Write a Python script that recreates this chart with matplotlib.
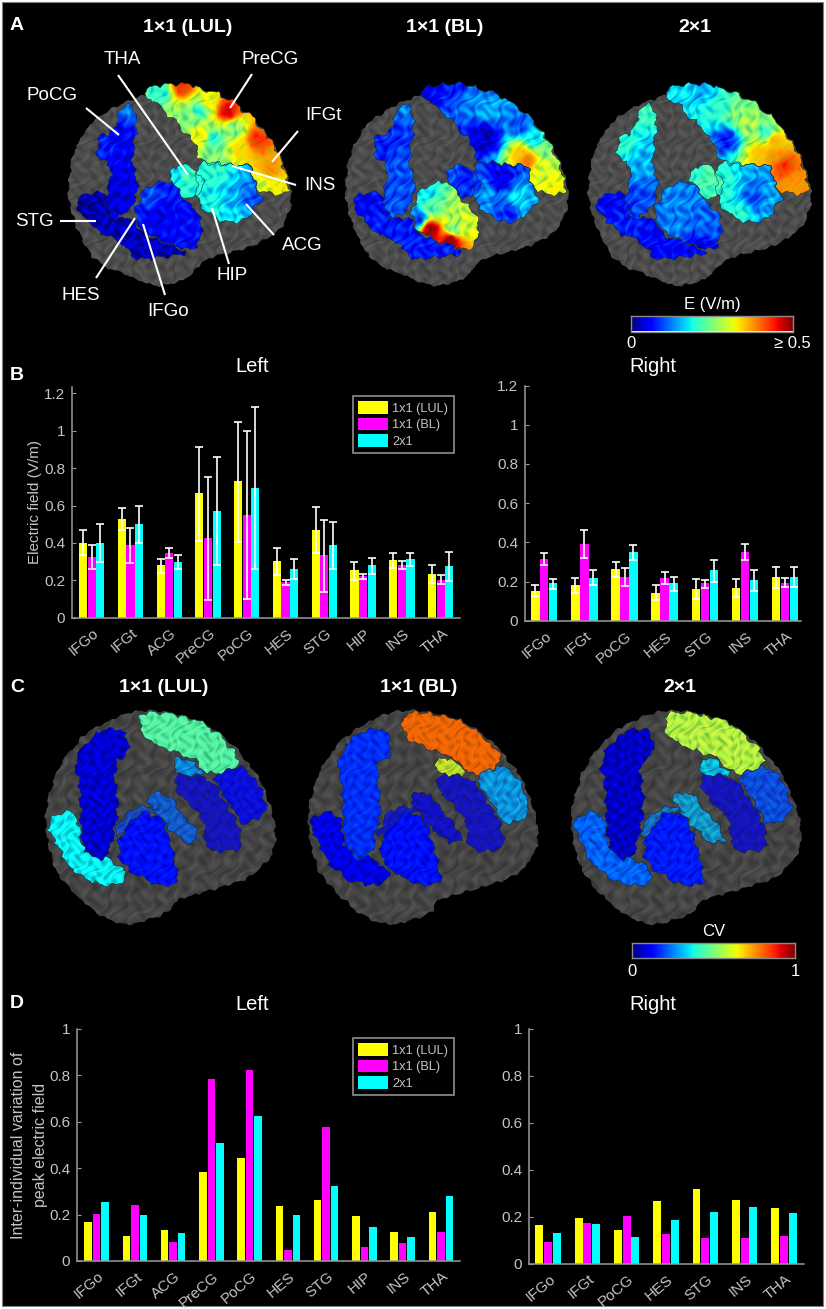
import numpy as np
import matplotlib
matplotlib.use('Agg')
import matplotlib.pyplot as plt
from matplotlib.patches import Polygon, Rectangle
from matplotlib.transforms import ScaledTranslation

plt.rcParams['font.family'] = ['Liberation Sans', 'DejaVu Sans']

W, H = 826, 1309
YELLOW, MAGENTA, CYAN = '#ffff00', '#ff00ff', '#00ffff'
GREY = '#c4c4c4'
AXIS = '#9a9a9a'
SERIES = ['1x1 (LUL)', '1x1 (BL)', '2x1']

# ---- panel B, mean and error bar ends
left_regions = ['IFGo', 'IFGt', 'ACG', 'PreCG', 'PoCG', 'HES', 'STG', 'HIP', 'INS', 'THA']
right_regions = ['IFGo', 'IFGt', 'PoCG', 'HES', 'STG', 'INS', 'THA']

bl_lul = [.40, .53, .28, .665, .73, .304, .47, .254, .308, .235]
bl_lul_hi = [.468, .585, .316, .915, 1.047, .373, .592, .30, .347, .283]
bl_lul_lo = [.334, .47, .24, .41, .407, .228, .347, .203, .267, .183]
bl_bl = [.325, .39, .347, .425, .55, .19, .334, .222, .283, .204]
bl_bl_hi = [.388, .48, .373, .754, 1.0, .20, .523, .236, .304, .229]
bl_bl_lo = [.258, .293, .32, .094, .10, .174, .14, .208, .261, .178]
bl_2x1 = [.40, .50, .30, .57, .695, .263, .39, .28, .313, .276]
bl_2x1_hi = [.50, .60, .336, .858, 1.125, .315, .512, .322, .347, .352]
bl_2x1_lo = [.30, .40, .263, .28, .26, .208, .263, .236, .276, .197]

br_lul = [.153, .18, .262, .143, .162, .167, .221]
br_lul_hi = [.18, .216, .30, .18, .213, .211, .274]
br_lul_lo = [.126, .143, .223, .104, .111, .121, .167]
br_bl = [.315, .393, .221, .218, .19, .353, .194]
br_bl_hi = [.344, .463, .267, .247, .208, .39, .216]
br_bl_lo = [.284, .322, .175, .186, .165, .31, .172]
br_2x1 = [.19, .22, .349, .19, .257, .206, .225]
br_2x1_hi = [.215, .259, .387, .225, .312, .257, .274]
br_2x1_lo = [.164, .18, .308, .153, .20, .153, .174]

# ---- panel D
dl_lul = [.167, .106, .135, .384, .443, .238, .263, .194, .126, .21]
dl_bl = [.203, .243, .08, .783, .822, .049, .576, .062, .078, .126]
dl_2x1 = [.256, .197, .122, .507, .625, .20, .322, .147, .105, .28]
dr_lul = [.163, .196, .143, .268, .32, .271, .236]
dr_bl = [.091, .175, .203, .126, .111, .108, .116]
dr_2x1 = [.129, .168, .112, .188, .222, .243, .217]

# ---- brain illustration, panel A, in 3x zoom pixels of the first brain
brain_a = [(205, 560), (215, 470), (260, 380), (340, 320), (430, 285), (560, 250), (680, 290), (780, 370),
           (850, 480), (875, 570), (870, 640), (830, 700), (760, 740), (640, 770), (600, 790), (560, 840),
           (470, 862), (380, 825), (290, 790), (230, 690), (205, 600)]
frontal_a = [(425, 280), (470, 255), (560, 250), (680, 290), (780, 370), (850, 490), (870, 578), (830, 585),
             (770, 570), (750, 495), (690, 495), (600, 490), (580, 420), (530, 370), (480, 320)]
middle_a = [(590, 480), (690, 495), (750, 495), (770, 570), (790, 590), (750, 650), (690, 672), (620, 640), (590, 590)]
tha_a = [(500, 520), (550, 490), (600, 520), (615, 570), (570, 600), (530, 570)]
pocg_a = [(362, 320), (400, 310), (412, 380), (395, 480), (415, 550), (400, 620), (340, 665), (310, 610),
          (330, 550), (330, 495), (290, 465), (295, 410), (340, 400)]
stg_a = [(215, 595), (310, 570), (340, 660), (400, 650), (420, 700), (470, 720), (580, 760), (400, 782),
         (370, 730), (280, 690)]
ifgo_a = [(430, 570), (500, 535), (560, 600), (610, 670), (590, 755), (500, 730), (420, 690), (400, 640)]
regions_a = [frontal_a, middle_a, pocg_a, stg_a, ifgo_a, tha_a]

jet_pts_a = [
    [  # 1x1 (LUL)
        [(545, 262, .85), (480, 280, .4), (680, 335, .92), (620, 310, .65), (600, 330, .4), (560, 360, .5),
         (600, 410, .65), (640, 420, .4), (770, 420, .85), (720, 450, .68), (700, 390, .5), (650, 470, .5),
         (810, 510, .75), (820, 560, .65), (780, 560, .6)],
        [(640, 520, .4), (700, 600, .3), (750, 600, .2), (640, 620, .38), (700, 650, .35)],
        [(350, 400, .12), (380, 320, .25), (380, 500, .1), (330, 600, .08), (300, 440, .15)],
        [(250, 620, .03), (400, 740, .05), (320, 660, .05)],
        [(500, 560, .15), (480, 640, .1), (560, 680, .13), (450, 590, .2)],
        [(560, 530, .42), (530, 520, .35), (600, 570, .38)],
    ],
    [  # 1x1 (BL)
        [(459, 280, .12), (529, 260, .15), (579, 310, .25), (629, 340, .3), (729, 380, .2), (769, 420, .35),
         (729, 460, .7), (749, 480, .78), (809, 450, .5), (799, 510, .6), (829, 560, .65), (629, 420, .05),
         (619, 400, .08)],
        [(669, 540, .1), (619, 580, .27), (719, 600, .35), (749, 640, .3), (699, 640, .15)],
        [(350, 400, .17), (380, 320, .25), (380, 500, .2), (330, 600, .2), (300, 440, .15)],
        [(250, 620, .12), (400, 740, .15), (320, 660, .15)],
        [(459, 690, .98), (519, 722, .98), (529, 640, .55), (569, 660, .6), (449, 580, .35), (469, 620, .45),
         (529, 690, .5), (420, 660, .2)],
        [(559, 530, .15), (529, 520, .2), (600, 570, .18)],
    ],
    [  # 2x1
        [(460, 280, .35), (550, 270, .3), (600, 320, .4), (650, 340, .5), (740, 400, .4), (760, 420, .72),
         (720, 460, .7), (790, 500, .85), (820, 550, .75), (620, 420, .15), (760, 470, .75), (680, 370, .55)],
        [(600, 560, .4), (700, 600, .2), (660, 640, .4), (760, 600, .3)],
        [(380, 320, .42), (310, 440, .4), (360, 480, .3), (340, 600, .18), (360, 620, .2)],
        [(250, 610, .12), (400, 750, .12), (320, 670, .15)],
        [(480, 600, .25), (550, 680, .22), (470, 680, .25), (530, 740, .1)],
        [(560, 530, .45), (530, 520, .4), (600, 570, .42)],
    ],
]

# ---- brain illustration, panel C, in zoom pixels (x 1.893x, y 3x) of the first brain
brain_c = [(85, 480), (110, 350), (160, 250), (240, 185), (300, 180), (380, 210), (440, 280), (490, 380), (520, 500),
           (522, 600), (480, 680), (400, 720), (330, 750), (320, 790), (240, 830), (180, 790), (110, 680), (90, 580)]
regions_c = [
    [(330, 370), (400, 385), (450, 520), (460, 600), (390, 605), (385, 500), (335, 430)],
    [(275, 440), (310, 420), (385, 570), (350, 582), (300, 500)],
    [(265, 190), (300, 185), (380, 210), (440, 290), (455, 345), (400, 380), (360, 320), (300, 290), (265, 250)],
    [(400, 375), (460, 345), (490, 400), (508, 490), (460, 530), (430, 450)],
    [(330, 330), (350, 320), (395, 375), (330, 375)],
    [(85, 510), (130, 480), (150, 510), (155, 600), (215, 630), (245, 680), (215, 710), (160, 690), (120, 630)],
    [(190, 240), (235, 235), (245, 310), (215, 340), (225, 480), (205, 620), (180, 630), (155, 590), (150, 380),
     (140, 350), (155, 290)],
    [(215, 560), (235, 490), (275, 465), (310, 490), (270, 480), (225, 560)],
    [(225, 560), (270, 480), (310, 510), (330, 620), (340, 705), (290, 705), (225, 640)],
]
region_alpha_c = [.7, .75, .95, .85, .85, 1, 1, .7, 1]
jet_vals_c = [
    [.10, .22, .45, .13, .27, .36, .07, .20, .14],
    [.10, .10, .80, .28, .60, .09, .17, .13, .14],
    [.10, .30, .57, .20, .33, .22, .06, .25, .15],
]


def smooth(points, bump=1.6):
    # one corner cut, then a lumpy edge so the shapes do not look like balloons
    p = np.array(points, float)
    q = np.roll(p, -1, axis=0)
    p = np.column_stack([.8 * p + .2 * q, .2 * p + .8 * q]).reshape(-1, 2)
    closed = np.vstack([p, p[:1]])
    s = np.r_[0, np.cumsum(np.hypot(*np.diff(closed, axis=0).T))]
    t = np.arange(0, s[-1], 2.5)
    x, y = np.interp(t, s, closed[:, 0]), np.interp(t, s, closed[:, 1])
    x2 = x + bump * (np.sin(y * .37 + x * .11) + .6 * np.sin(y * .9))
    y2 = y + bump * (np.sin(x * .41 - y * .09) + .6 * np.sin(x * .83))
    return np.column_stack([x2, y2])


def ripple(x, y, k=1.0):
    u = k * (x + 5 * np.sin(y * .13) + 3 * np.sin(y * .31))
    v = k * (y + 5 * np.sin(x * .11) + 3 * np.sin(x * .29))
    return (np.sin(.5 * u + .21 * v) + np.sin(.13 * u - .47 * v + 1) + .6 * np.sin(.83 * u + .57 * v + 2)) / 2.6


def paint(ax, poly, fill, alpha=1, shade=.18, wobble=.05, k=1.0):
    # poly is in figure pixels, fill is one jet value or a list of (x, y, value)
    poly = smooth(poly)
    x0, y0 = np.floor(poly.min(axis=0))
    x1, y1 = np.ceil(poly.max(axis=0))
    xs, ys = np.meshgrid(np.arange(x0, x1 + 1), np.arange(y0, y1 + 1))
    if np.isscalar(fill):
        val = np.full(xs.shape, float(fill))
    else:
        num, den = 0, 0
        for px, py, v in fill:
            w = 1 / (np.hypot(xs - px, ys - py) ** 3 + 1)
            num = num + w * v
            den = den + w
        val = num / den
    r = ripple(xs, ys, k)
    rgb = plt.cm.jet(np.clip(val + wobble * r, 0, 1))[..., :3]
    rgb = np.clip(rgb * (1 + shade * r)[..., None], 0, 1)
    im = ax.imshow(rgb, extent=(x0 - .5, x1 + .5, y1 + .5, y0 - .5), aspect='auto', alpha=alpha,
                   interpolation='bilinear', zorder=3)
    patch = Polygon(poly, closed=True, fc='none', ec='#102030', lw=.35, zorder=3.2)
    ax.add_patch(patch)
    im.set_clip_path(patch)


def grey_brain(ax, outline, level=.30, k=1.0):
    poly = smooth(outline, bump=1.0)
    x0, y0 = np.floor(poly.min(axis=0))
    x1, y1 = np.ceil(poly.max(axis=0))
    xs, ys = np.meshgrid(np.arange(x0, x1 + 1), np.arange(y0, y1 + 1))
    g = level + .06 * ripple(xs, ys, k)
    im = ax.imshow(g, extent=(x0 - .5, x1 + .5, y1 + .5, y0 - .5), aspect='auto', cmap='gray', vmin=0, vmax=1,
                   interpolation='bilinear', zorder=2)
    patch = Polygon(poly, closed=True, fc='none', ec='none', zorder=2)
    ax.add_patch(patch)
    im.set_clip_path(patch)


def px_axes(x0, ytop, x1, ybot):
    return fig.add_axes([x0 / W, 1 - ybot / H, (x1 - x0) / W, (ybot - ytop) / H])


def style_axes(ax, xlim, ylim, yticks, ylabels, regions):
    ax.set_facecolor('none')
    ax.set_xlim(*xlim)
    ax.set_ylim(*ylim)
    for s in ['top', 'right']:
        ax.spines[s].set_visible(False)
    for s in ['left', 'bottom']:
        ax.spines[s].set_color(AXIS)
        ax.spines[s].set_linewidth(1.1)
    ax.set_yticks(yticks)
    ax.set_yticklabels(ylabels, fontsize=11, color=GREY)
    ax.tick_params(axis='y', direction='in', length=3, color=AXIS, pad=5)
    ax.set_xticks(range(1, len(regions) + 1))
    ax.set_xticklabels(regions, fontsize=11, color=GREY, rotation=40, ha='right', va='top', rotation_mode='anchor')
    ax.tick_params(axis='x', length=0, pad=6)
    shift = ScaledTranslation(1 / 100, 0, fig.dpi_scale_trans)
    for t in ax.get_xticklabels():
        t.set_transform(t.get_transform() + shift)


def add_legend(ax, handles, top):
    leg = ax.legend(handles, SERIES, loc='upper left', bbox_to_anchor=(353 / W, 1 - top / H),
                    bbox_transform=fig.transFigure, borderaxespad=0, fontsize=9.2, labelcolor=GREY,
                    handlelength=2.3, handleheight=1.1, labelspacing=.24, handletextpad=.35, borderpad=.42,
                    fancybox=False, framealpha=1, facecolor='black', edgecolor=AXIS)
    leg.get_frame().set_linewidth(1.1)


fig = plt.figure(figsize=(W / 100, H / 100), dpi=100, facecolor='white')

bg = fig.add_axes([0, 0, 1, 1])
bg.set_xlim(0, W)
bg.set_ylim(H, 0)
bg.axis('off')
bg.add_patch(Rectangle((2, 2), 821, 1304, fc='black', ec='#808080', lw=.8, zorder=0))

# panel A brains
for shift_x, pts in zip([0, 277, 520], jet_pts_a):
    grey_brain(bg, [(x / 3 + shift_x, y / 3) for x, y in brain_a])
    for poly, ctrl in zip(regions_a, pts):
        paint(bg, [(x / 3 + shift_x, y / 3) for x, y in poly],
              [(x / 3 + shift_x, y / 3, v) for x, y, v in ctrl])

# panel C brains
for shift_x, vals in zip([0, 262.5, 525.6], jet_vals_c):
    grey_brain(bg, [(x / 1.893 + shift_x, y / 3 + 650) for x, y in brain_c], level=.27, k=.8)
    for poly, v, a in zip(regions_c, vals, region_alpha_c):
        paint(bg, [(x / 1.893 + shift_x, y / 3 + 650) for x, y in poly], v, alpha=a, shade=.25, wobble=.012, k=1.2)

# names and leader lines of the first brain
brain_labels = [('THA', 122, 59), ('PreCG', 270, 60), ('PoCG', 52, 95), ('IFGt', 323, 116), ('INS', 320, 185),
                ('STG', 34, 221), ('ACG', 302, 246), ('HIP', 232, 276), ('HES', 81, 296), ('IFGo', 168, 311)]
leaders = [((118, 75), (188, 175)), ((252, 74), (230, 108)), ((86, 108), (119, 135)), ((298, 131), (272, 162)),
           ((296, 185), (232, 166)), ((60, 221), (96, 221)), ((274, 235), (246, 204)), ((229, 264), (212, 208)),
           ((96, 278), (135, 218)), ((165, 295), (143, 224))]
for (a, b) in leaders:
    bg.plot([a[0], b[0]], [a[1], b[1]], color='white', lw=1.5, zorder=5, solid_capstyle='butt')
for name, x, y in brain_labels:
    bg.text(x, y, name, color='white', fontsize=13.5, ha='center', va='center', zorder=6)

# titles
for name, x, y in [('A', 17, 26), ('B', 17, 375), ('C', 17, 687), ('D', 17, 1004)]:
    bg.text(x, y, name, color='white', fontsize=14, fontweight='bold', ha='center', va='center')
for y, xs in [(28, [188, 445, 695]), (687, [164, 419, 680])]:
    for name, x in zip(['1×1 (LUL)', '1×1 (BL)', '2×1'], xs):
        bg.text(x, y, name, color='white', fontsize=14, fontweight='bold', ha='center', va='center')
for y in [367, 1004]:
    bg.text(252, y, 'Left', color='white', fontsize=14.5, ha='center', va='center')
    bg.text(653, y, 'Right', color='white', fontsize=14.5, ha='center', va='center')

# colour bars
gradient = np.linspace(0, 1, 256)[None, :]
bar_e = px_axes(631, 316, 793, 331.5)
bar_cv = px_axes(632, 942.7, 795, 958)
for cb in [bar_e, bar_cv]:
    cb.imshow(gradient, cmap='jet', aspect='auto')
    cb.set_xticks([])
    cb.set_yticks([])
    for s in cb.spines.values():
        s.set_color('#8a8a8a')
        s.set_linewidth(1)
bg.text(712.5, 304, 'E (V/m)', color='white', fontsize=12, ha='center', va='center')
bg.text(631, 343, '0', color='white', fontsize=12, ha='center', va='center')
bg.text(811, 343, '≥ 0.5', color='white', fontsize=12, ha='right', va='center')
bg.text(714, 931, 'CV', color='white', fontsize=12, ha='center', va='center')
bg.text(632, 971, '0', color='white', fontsize=12, ha='center', va='center')
bg.text(795, 971, '1', color='white', fontsize=12, ha='center', va='center')

# panel B bars
err_kw = dict(ecolor='white', elinewidth=1.2, capsize=2.6, capthick=1.2)
ticks_b = [0, .2, .4, .6, .8, 1, 1.2]
labels_b = ['0', '0.2', '0.4', '0.6', '0.8', '1', '1.2']
panel_b = [
    (px_axes(72.3, 386.7, 460, 617.7), (.5, 10.5), 1.236, left_regions,
     [(bl_lul, bl_lul_lo, bl_lul_hi), (bl_bl, bl_bl_lo, bl_bl_hi), (bl_2x1, bl_2x1_lo, bl_2x1_hi)]),
    (px_axes(525, 385.5, 800.7, 620.7), (.52, 7.39), 1.2, right_regions,
     [(br_lul, br_lul_lo, br_lul_hi), (br_bl, br_bl_lo, br_bl_hi), (br_2x1, br_2x1_lo, br_2x1_hi)]),
]
for ax, xlim, ytop, regions, groups in panel_b:
    x = np.arange(1, len(regions) + 1)
    handles = []
    for i, (col, (val, lo, hi)) in enumerate(zip([YELLOW, MAGENTA, CYAN], groups)):
        val, lo, hi = np.array(val), np.array(lo), np.array(hi)
        b = ax.bar(x + (i - 1) * .223, val, width=.21, color=col, yerr=[val - lo, hi - val], error_kw=err_kw)
        handles.append(b)
    style_axes(ax, xlim, (0, ytop), ticks_b, labels_b, regions)
    if len(regions) == 10:
        add_legend(ax, handles, 396)
bg.text(35, 502, 'Electric field (V/m)', color=GREY, fontsize=11, rotation=90, ha='center', va='center')

# panel D bars
ticks_d = [0, .2, .4, .6, .8, 1]
labels_d = ['0', '0.2', '0.4', '0.6', '0.8', '1']
panel_d = [
    (px_axes(77.3, 1029, 460, 1261), (.495, 10.5), left_regions, [dl_lul, dl_bl, dl_2x1]),
    (px_axes(529.3, 1029, 804, 1263.7), (.525, 7.51), right_regions, [dr_lul, dr_bl, dr_2x1]),
]
for ax, xlim, regions, groups in panel_d:
    x = np.arange(1, len(regions) + 1)
    handles = []
    for i, (col, val) in enumerate(zip([YELLOW, MAGENTA, CYAN], groups)):
        handles.append(ax.bar(x + (i - 1) * .222, val, width=.2, color=col))
    style_axes(ax, xlim, (0, 1), ticks_d, labels_d, regions)
    if len(regions) == 10:
        add_legend(ax, handles, 1038)
bg.text(19, 1145, 'Inter-individual variation of', color=GREY, fontsize=11.5, rotation=90, ha='center', va='center')
bg.text(41, 1145, 'peak electric field', color=GREY, fontsize=11.5, rotation=90, ha='center', va='center')

bg.set_xlim(0, W)
bg.set_ylim(H, 0)
fig.savefig('out.png', dpi=100, facecolor='white')
